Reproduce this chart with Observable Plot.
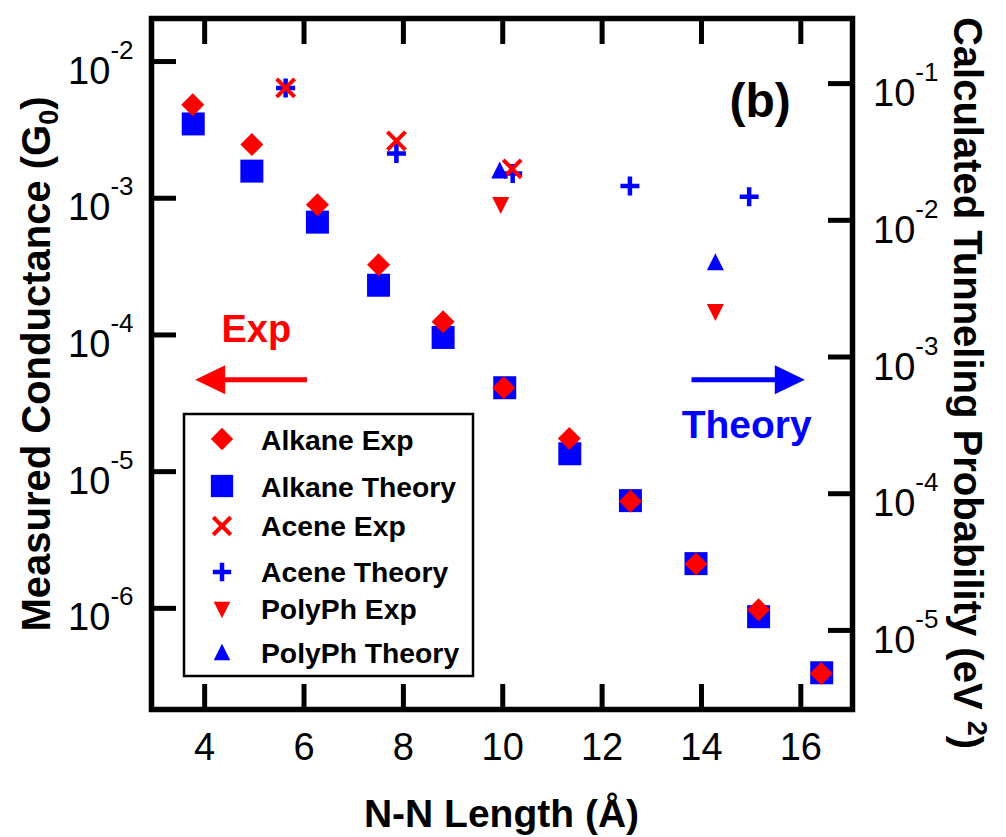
<!DOCTYPE html>
<html><head><meta charset="utf-8">
<script src="https://cdn.jsdelivr.net/npm/d3@7"></script>
<script src="https://cdn.jsdelivr.net/npm/@observablehq/plot@0.6"></script>
<style>
body{margin:0;background:#fff;}
#chart{position:relative;width:1006px;height:837px;}
</style></head><body><div id="chart"></div>
<script>
// ---- data ----
const alkaneExpX = [3.76, 4.95, 6.27, 7.50, 8.80, 10.02, 11.34, 12.57, 13.89, 15.15, 16.41];
const alkaneExpG = [4.84e-3, 2.47e-3, 8.96e-4, 3.26e-4, 1.25e-4, 4.11e-5, 1.75e-5, 6.08e-6, 2.11e-6, 9.77e-7, 3.34e-7];
const alkaneTheoryX = [3.77, 4.95, 6.27, 7.50, 8.80, 10.04, 11.35, 12.57, 13.89, 15.15, 16.42];
const alkaneTheoryT = [5.07e-2, 2.29e-2, 9.7e-3, 3.35e-3, 1.39e-3, 5.96e-4, 1.96e-4, 8.9e-5, 3.08e-5, 1.26e-5, 4.9e-6];
const aceneExpX = [5.63, 7.86, 10.19];
const aceneExpG = [6.41e-3, 2.63e-3, 1.64e-3];
const aceneTheoryX = [5.63, 7.86, 10.20, 12.56, 14.96];
const aceneTheoryT = [0.0927, 0.0308, 0.0220, 0.0178, 0.0149];
const polyExpX = [9.96, 14.28];
const polyExpG = [8.85e-4, 1.46e-4];
const polyTheoryX = [9.94, 14.28];
const polyTheoryT = [0.0233, 4.97e-3];

const xTicks = [4, 6, 8, 10, 12, 14, 16];
const gTicks = [1e-2, 1e-3, 1e-4, 1e-5, 1e-6];
const tTicks = [1e-1, 1e-2, 1e-3, 1e-4, 1e-5];
const T_PER_G = 14.5; // right-axis units per left-axis unit

const legendLabels = ["Alkane Exp", "Alkane Theory", "Acene Exp", "Acene Theory", "PolyPh Exp", "PolyPh Theory"];

const FONT = "'Liberation Sans', Arial, Helvetica, sans-serif";
const RED = "#ff0000", BLUE = "#0000ff";

// ---- symbols ----
const sym = (f) => ({draw(c, size) { const r = Math.sqrt(size / Math.PI); f(c, r); }});
const diamondSym = sym((c, r) => { c.moveTo(0, -r); c.lineTo(r, 0); c.lineTo(0, r); c.lineTo(-r, 0); c.closePath(); });
const squareSym = sym((c, r) => { c.moveTo(-r, -r); c.lineTo(r, -r); c.lineTo(r, r); c.lineTo(-r, r); c.closePath(); });
const timesSym = sym((c, r) => { c.moveTo(-r, -r); c.lineTo(r, r); c.moveTo(r, -r); c.lineTo(-r, r); });
const plusSym = sym((c, r) => { c.moveTo(-r, 0); c.lineTo(r, 0); c.moveTo(0, -r); c.lineTo(0, r); });
const triDownSym = sym((c, r) => { c.moveTo(-r, -r); c.lineTo(r, -r); c.lineTo(0, r); c.closePath(); });
const triUpSym = sym((c, r) => { c.moveTo(-r, r); c.lineTo(r, r); c.lineTo(0, -r); c.closePath(); });

const toRows = (xs, ys, k = 1) => xs.map((x, i) => ({x, y: ys[i] / k}));

const styles = [
  {symbol: diamondSym, r: 11.5, fill: RED, stroke: "none"},
  {symbol: squareSym, r: 11.5, fill: BLUE, stroke: "none"},
  {symbol: timesSym, r: 9, fill: "none", stroke: RED, strokeWidth: 4},
  {symbol: plusSym, r: 9.5, fill: "none", stroke: BLUE, strokeWidth: 4.5},
  {symbol: triDownSym, r: 8.5, fill: RED, stroke: "none"},
  {symbol: triUpSym, r: 8.5, fill: BLUE, stroke: "none"}
];

const expFmt = (d) => `10^${Math.round(Math.log10(d))}`;

const chart = Plot.plot({
  width: 1006, height: 837,
  marginLeft: 151, marginRight: 154, marginTop: 18, marginBottom: 128,
  x: {domain: [2.93, 17.04]},
  y: {type: "log", domain: [1.82e-7, 2.065e-2]},
  style: {fontFamily: FONT, fontSize: "38px", color: "black", background: "white", overflow: "visible"},
  marks: [
    // tick marks (inward)
    Plot.axisX(xTicks, {anchor: "bottom", tickSize: -25, strokeWidth: 5, tickFormat: () => "", label: null}),
    Plot.axisX(xTicks, {anchor: "top", tickSize: -25, strokeWidth: 5, tickFormat: () => "", label: null}),
    Plot.axisY(gTicks, {anchor: "left", tickSize: -25, strokeWidth: 5, tickFormat: () => "", label: null}),
    Plot.axisY(tTicks.map(v => v / T_PER_G), {anchor: "right", tickSize: -25, strokeWidth: 5, tickFormat: () => "", label: null}),
    // tick labels
    Plot.axisX(xTicks, {anchor: "bottom", tickSize: 0, tickPadding: 24, label: null, fontSize: 38}),
    Plot.axisY(gTicks, {anchor: "left", tickSize: 0, tickPadding: 18, tickFormat: expFmt, label: null, fontSize: 38}),
    // data
    Plot.dot(toRows(alkaneTheoryX, alkaneTheoryT, T_PER_G), {x: "x", y: "y", ...styles[1]}),
    Plot.dot(toRows(alkaneExpX, alkaneExpG), {x: "x", y: "y", ...styles[0]}),
    Plot.dot(toRows(aceneTheoryX, aceneTheoryT, T_PER_G), {x: "x", y: "y", ...styles[3]}),
    Plot.dot(toRows(aceneExpX, aceneExpG), {x: "x", y: "y", ...styles[2]}),
    Plot.dot(toRows(polyTheoryX, polyTheoryT, T_PER_G), {x: "x", y: "y", ...styles[5]}),
    Plot.dot(toRows(polyExpX, polyExpG), {x: "x", y: "y", ...styles[4]}),
    Plot.frame({stroke: "black", strokeWidth: 5.5})
  ]
});

document.getElementById("chart").appendChild(chart);
const svg = d3.select(chart);
const sx = chart.scale("x"), sy = chart.scale("y");

// right-axis tick labels (theory scale mapped onto the shared y scale)
const rightX = sx.range[1] + 21;
const rl = svg.append("g").attr("font-family", FONT).attr("font-size", 38).attr("text-anchor", "start").attr("fill", "black");
tTicks.forEach(v => {
  rl.append("text").attr("x", rightX).attr("y", sy.apply(v / T_PER_G)).text(expFmt(v));
});

// superscript tick labels
svg.selectAll("text").each(function() {
  const t = d3.select(this);
  const m = /^10\^(-?\d+)$/.exec(t.text());
  if (!m) return;
  const isRight = this.parentNode === rl.node();
  if (!isRight) t.attr("y", null);
  t.attr("dy", null).text(null);
  t.append("tspan").attr("dy", isRight ? 23 : 22).text("10");
  t.append("tspan").attr("dy", -25).attr("font-size", 26).text(m[1]);
});

// axis titles
const titles = svg.append("g").attr("font-family", FONT).attr("font-weight", "bold").attr("fill", "black");
const lt = titles.append("text").attr("text-anchor", "middle").attr("font-size", 40)
  .attr("transform", "translate(50,364) rotate(-90)");
lt.append("tspan").text("Measured Conductance (G");
lt.append("tspan").attr("font-size", 27).attr("dy", 8).text("0");
lt.append("tspan").attr("dy", -8).text(")");

const rt = titles.append("text").attr("text-anchor", "middle").attr("font-size", 40)
  .attr("transform", "translate(954,383) rotate(90)");
rt.append("tspan").text("Calculated Tunneling Probability (eV ");
rt.append("tspan").attr("font-size", 27).attr("dy", -14).text("2");
rt.append("tspan").attr("dy", 14).text(")");

titles.append("text").attr("text-anchor", "middle").attr("font-size", 39)
  .attr("x", 501.5).attr("y", 827).text("N-N Length (Å)");

// annotations
const ann = svg.append("g").attr("font-family", FONT).attr("font-weight", "bold");
ann.append("text").attr("text-anchor", "middle").attr("font-size", 48).attr("fill", "black")
  .attr("x", sx.apply(15.19)).attr("y", sy.apply(3.89e-3)).text("(b)");
ann.append("text").attr("text-anchor", "middle").attr("font-size", 38).attr("fill", RED)
  .attr("x", sx.apply(5.05)).attr("y", sy.apply(8.79e-5)).text("Exp");
ann.append("text").attr("text-anchor", "middle").attr("font-size", 39).attr("fill", BLUE)
  .attr("x", sx.apply(14.92)).attr("y", sy.apply(1.75e-5)).text("Theory");

function arrow(x1, x2, yv, color) {
  const px1 = sx.apply(x1), px2 = sx.apply(x2), py = sy.apply(yv);
  const dir = Math.sign(px2 - px1), L = 30, H = 14.5;
  ann.append("line").attr("x1", px1).attr("x2", px2 - dir * L + dir * 2).attr("y1", py).attr("y2", py)
    .attr("stroke", color).attr("stroke-width", 5);
  ann.append("path").attr("fill", color)
    .attr("d", `M${px2},${py}L${px2 - dir * L},${py - H}L${px2 - dir * L},${py + H}Z`);
}
arrow(6.07, 3.82, 4.66e-5, RED);
arrow(13.81, 16.09, 4.66e-5, BLUE);

// legend
const lg = svg.append("g").attr("font-family", FONT).attr("text-anchor", "start");
lg.append("rect").attr("x", 184).attr("y", 414).attr("width", 289).attr("height", 262)
  .attr("fill", "white").attr("stroke", "black").attr("stroke-width", 2.5);
const symY = [439, 486, 526, 572, 610, 652];
const txtY = [449.5, 497, 535.5, 582, 619, 663];
legendLabels.forEach((label, i) => {
  const s = styles[i];
  const lr = s.r * 0.97;
  lg.append("path").attr("transform", `translate(222,${symY[i]})`)
    .attr("d", d3.symbol(s.symbol, lr * lr * Math.PI)())
    .attr("fill", s.fill).attr("stroke", s.stroke === "none" ? null : s.stroke)
    .attr("stroke-width", s.strokeWidth || null);
  lg.append("text").attr("x", 261).attr("y", txtY[i]).attr("font-size", 28.3).attr("font-weight", "bold")
    .attr("fill", "black").text(label);
});
</script>
</body></html>
